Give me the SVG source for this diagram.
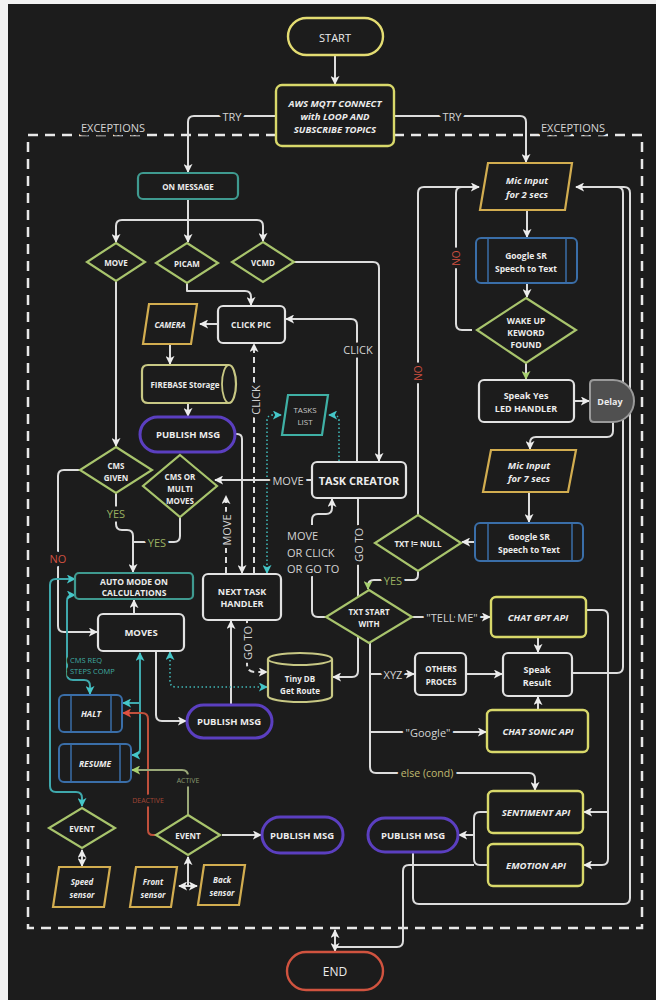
<svg xmlns="http://www.w3.org/2000/svg" width="656" height="1000" viewBox="0 0 656 1000">
<defs>
<style>
.t{font-family:"Open Sans","Liberation Sans",sans-serif;font-weight:700;font-size:8.5px;fill:#ececec;text-anchor:middle;dominant-baseline:central}
.i{font-style:italic}
.l{font-family:"Open Sans","Liberation Sans",sans-serif;font-weight:400;font-size:11px;fill:#d4d4d4;text-anchor:middle;dominant-baseline:central;paint-order:stroke;stroke:#1c1c1c;stroke-width:7px;stroke-linejoin:round}
.c{fill:none;stroke:#dcdcdc;stroke-width:2;stroke-linejoin:round}
.d{stroke-dasharray:6 4}
.tl{fill:none;stroke:#3fb5b5;stroke-width:1.6;stroke-dasharray:1.5 2.5}
.ts{fill:none;stroke:#3fa8ac;stroke-width:2}
.rd{fill:none;stroke:#c0503c;stroke-width:2}
.gr{fill:none;stroke:#9aa878;stroke-width:2}
.w{fill:#1c1c1c;stroke:#e2e2e2;stroke-width:2.2}
.y{fill:#1c1c1c;stroke:#d8d86a;stroke-width:2.4}
.cy{fill:#1c1c1c;stroke:#c8c884;stroke-width:2.2}
.g{fill:#1c1c1c;stroke:#a8c46c;stroke-width:2.2}
.gd{fill:#1c1c1c;stroke:#d2ad50;stroke-width:2.2}
.tq{fill:#1c1c1c;stroke:#3f9a90;stroke-width:2.2}
.b{fill:#1c1c1c;stroke:#3a6ea8;stroke-width:2}
.bl{fill:none;stroke:#3a6ea8;stroke-width:1.5}
.p{fill:#1c1c1c;stroke:#5b3fc0;stroke-width:3}
</style>
<marker id="aw" viewBox="0 0 10 10" refX="9" refY="5" markerWidth="9" markerHeight="9" markerUnits="userSpaceOnUse" orient="auto-start-reverse"><path d="M0,0 L10,5 L0,10 L2.5,5 Z" fill="#ececec"/></marker>
<marker id="at" viewBox="0 0 10 10" refX="9" refY="5" markerWidth="9" markerHeight="9" markerUnits="userSpaceOnUse" orient="auto-start-reverse"><path d="M0,0 L10,5 L0,10 L2.5,5 Z" fill="#45c6c8"/></marker>
<marker id="ar" viewBox="0 0 10 10" refX="9" refY="5" markerWidth="9" markerHeight="9" markerUnits="userSpaceOnUse" orient="auto-start-reverse"><path d="M0,0 L10,5 L0,10 L2.5,5 Z" fill="#e05040"/></marker>
<marker id="ag" viewBox="0 0 10 10" refX="9" refY="5" markerWidth="9" markerHeight="9" markerUnits="userSpaceOnUse" orient="auto-start-reverse"><path d="M0,0 L10,5 L0,10 L2.5,5 Z" fill="#a8d070"/></marker>
</defs>
<rect x="0" y="0" width="656" height="1000" fill="#f2f2f2"/>
<rect x="8" y="4" width="648" height="996" fill="#1c1c1c"/>

<g id="exceptions">
<path d="M276,135 H28 V928 H642 V135 H394" fill="none" stroke="#e8e8e8" stroke-width="2.5" stroke-dasharray="10 7"/>
<text class="l" x="113" y="127">EXCEPTIONS</text>
<text class="l" x="573" y="127">EXCEPTIONS</text>
</g>

<g id="connectors">
<path class="c" d="M335,55 V84" marker-end="url(#aw)"/>
<path class="c" d="M276,116 H194 Q188,116 188,122 V172" marker-end="url(#aw)"/>
<path class="c" d="M394,116 H520 Q526,116 526,122 V162" marker-end="url(#aw)"/>
<path class="c" d="M188,199 V242" marker-end="url(#aw)"/>
<path class="c" d="M188,220 H122 Q116,220 116,226 V242" marker-end="url(#aw)"/>
<path class="c" d="M188,220 H257 Q263,220 263,226 V241" marker-end="url(#aw)"/>
<path class="c" d="M294,262 H373 Q379,262 379,268 V461" marker-end="url(#aw)"/>
<path class="c" d="M187,283 V291 H245 Q251,291 251,297 V305" marker-end="url(#aw)"/>
<path class="c" d="M218,324 H200" marker-end="url(#aw)"/>
<path class="c" d="M170,344 V364" marker-end="url(#aw)"/>
<path class="c" d="M188,403 V416" marker-end="url(#aw)"/>
<path class="c" d="M235,434 H237 Q242,434 242,439 V573" marker-end="url(#aw)"/>
<path class="c d" d="M254,573 V344" marker-end="url(#aw)"/>
<path class="tl" d="M267,573 V421 Q267,415 273,415 H281" marker-start="url(#at)" marker-end="url(#at)"/>
<path class="tl" d="M339,461 V421 Q339,415 333,415 H329" marker-end="url(#at)"/>
<path class="c" d="M357,462 V325 Q357,319 351,319 H286" marker-end="url(#aw)"/>
<path class="c" d="M312,480 H215" marker-end="url(#aw)"/>
<path class="c" d="M116,281 V446" marker-end="url(#aw)"/>
<path class="c d" d="M226,573 V496" marker-end="url(#aw)"/>
<path class="c" d="M116,493 V524 Q116,530 122,530 H127 Q133,530 133,536 V572" marker-end="url(#aw)"/>
<path class="c" d="M180,517 V536 Q180,542 174,542 H133"/>
<path class="c" d="M80,470 H64 Q58,470 58,476 V626 Q58,632 64,632 H97" marker-end="url(#aw)"/>
<path class="c" d="M134,614 V600" marker-end="url(#aw)"/>
<path class="c d" d="M247,620 V664 Q247,672 255,672 H267" marker-end="url(#aw)"/>
<path class="c" d="M231,705 V621" marker-end="url(#aw)"/>
<path class="c" d="M156,651 V715 Q156,721 162,721 H186" marker-end="url(#aw)"/>
<path class="tl" d="M170,652 V681 Q170,687 176,687 H267" marker-start="url(#at)" marker-end="url(#at)"/>
<path class="c" d="M358,498 V671 Q358,677 352,677 H333" marker-end="url(#aw)"/>
<path class="c" d="M327,617 H318 Q312,617 312,611 V576"/>
<path class="c" d="M312,525 V520 Q312,514 318,514 H326 Q332,514 332,508 V499" marker-end="url(#aw)"/>
<path class="c" d="M475,542 H462" marker-end="url(#aw)"/>
<path class="c" d="M418,571 V575 Q418,580 413,580 H374 Q368,580 368,586 V589" marker-end="url(#ag)"/>
<path class="c" d="M418,515 V193 Q418,187 424,187 H479" marker-end="url(#aw)"/>
<path class="c" d="M472,330 H462 Q456,330 456,324 V193 Q456,187 462,187"/>
<path class="c" d="M527,210 V237" marker-end="url(#aw)"/>
<path class="c" d="M527,283 V297" marker-end="url(#aw)"/>
<path class="c" d="M526,363 V379" marker-end="url(#ag)"/>
<path class="c" d="M574,401 H589" marker-end="url(#aw)"/>
<path class="c" d="M613,422 V431 Q613,437 607,437 H536 Q530,437 530,443 V449" marker-end="url(#aw)"/>
<path class="c" d="M529,492 V522" marker-end="url(#aw)"/>
<path class="c" d="M412,617 H490" marker-end="url(#aw)"/>
<path class="c" d="M538,637 V652" marker-end="url(#aw)"/>
<path class="c" d="M466,674 H502" marker-end="url(#aw)"/>
<path class="c" d="M370,643 V767 Q370,773 376,773 H529 Q535,773 535,779 V790" marker-end="url(#aw)"/>
<path class="c" d="M370,674 H414" marker-end="url(#aw)"/>
<path class="c" d="M370,732 H486" marker-end="url(#aw)"/>
<path class="c" d="M538,710 V697" marker-end="url(#aw)"/>
<path class="c" d="M572,673 H617 Q623,673 623,667 V193 Q623,187 617,187 H576" marker-end="url(#aw)"/>
<path class="c" d="M586,610 H602 Q608,610 608,616 V859 Q608,865 602,865 H584" marker-end="url(#aw)"/>
<path class="c" d="M608,812 H584" marker-end="url(#aw)"/>
<path class="c" d="M488,812 H480 Q474,812 474,818 V859 Q474,865 480,865 H488"/>
<path class="c" d="M474,835 H459" marker-end="url(#aw)"/>
<path class="c" d="M413,852 V898 Q413,904 419,904 H624 Q630,904 630,898 V193 Q630,187 624,187 H617"/>
<path class="c" d="M474,865 H409 Q403,865 403,871 V941 Q403,947 397,947 H335"/>
<path class="c" d="M335,930 V951" marker-start="url(#aw)" marker-end="url(#aw)"/>
<path class="ts" d="M75,579 H56 Q50,579 50,585 V786 Q50,792 56,792 H76 Q82,792 82,798 V806" marker-start="url(#at)" marker-end="url(#at)"/>
<path class="ts" d="M75,595 H73 Q67,595 67,601 V674 Q67,680 73,680 H84 Q90,680 90,686 V694" marker-start="url(#at)" marker-end="url(#at)"/>
<path class="ts" d="M140,653 V749 Q140,755 134,755 H132" marker-start="url(#at)" marker-end="url(#at)"/>
<path class="ts" d="M140,703 H123" marker-end="url(#at)"/>
<path class="rd" d="M157,835 H153 Q148,835 148,830 V719 Q148,713 142,713 H123" marker-end="url(#ar)"/>
<path class="gr" d="M188,815 V776 Q188,770 182,770 H132" marker-end="url(#ag)"/>
<path class="c" d="M222,835 H261" marker-end="url(#aw)"/>
<path class="c" d="M82,850 V866" marker-start="url(#aw)" marker-end="url(#aw)"/>
<path class="c" d="M188,857 V886" marker-start="url(#aw)"/>
<path class="c" d="M179,886 H197" marker-start="url(#aw)" marker-end="url(#aw)"/>
<text class="l" x="232" y="116">TRY</text>
<text class="l" x="452" y="116">TRY</text>
<text class="l" x="358" y="349">CLICK</text>
<text class="l" x="288" y="480">MOVE</text>
<text class="l" transform="translate(255,400) rotate(-90)">CLICK</text>
<text class="l" transform="translate(226,530) rotate(-90)">MOVE</text>
<text class="l" transform="translate(247,643) rotate(-90)">GO TO</text>
<text class="l" transform="translate(358,545) rotate(-90)">GO TO</text>
<text class="l" transform="translate(418,373) rotate(-90)" style="fill:#d05040;font-size:10px">NO</text>
<text class="l" transform="translate(456,258) rotate(-90)" style="fill:#d05040;font-size:10px">NO</text>
<text class="l" x="116" y="513" style="fill:#9ab060">YES</text>
<text class="l" x="157" y="542" style="fill:#9ab060">YES</text>
<text class="l" x="58" y="558" style="fill:#d05040">NO</text>
<text class="l" x="393" y="580" style="fill:#9ab060">YES</text>
<text class="l" x="287" y="535" style="text-anchor:start">MOVE</text>
<text class="l" x="287" y="552" style="text-anchor:start">OR CLICK</text>
<text class="l" x="287" y="568" style="text-anchor:start">OR GO TO</text>
<text class="l" x="452" y="617">"TELL ME"</text>
<text class="l" x="393" y="674">XYZ</text>
<text class="l" x="428" y="732">"Google"</text>
<text class="l" x="427" y="773" style="fill:#c0bb70;font-size:10.5px">else (cond)</text>
<text class="l" x="70" y="660" style="fill:#3fa8a0;font-size:7.5px;text-anchor:start">CMS REQ</text>
<text class="l" x="70" y="671" style="fill:#3fa8a0;font-size:7.5px;text-anchor:start">STEPS COMP</text>
<text class="l" x="148" y="800" style="fill:#a04535;font-size:7px">DEACTIVE</text>
<text class="l" x="188" y="780" style="fill:#8a9a70;font-size:7px">ACTIVE</text>
</g>

<g id="start"><rect class="y" x="288" y="18" width="95" height="37" rx="18.5" style="stroke:#e3dc72"/><text class="t" x="335" y="37" style="font-weight:400;font-size:11px">START</text></g>
<g id="aws"><rect class="y" x="276" y="85" width="118" height="61" rx="6"/><text class="t i" x="335" y="103" style="font-size:9.5px">AWS MQTT CONNECT</text><text class="t i" x="335" y="116" style="font-size:9.5px">with LOOP AND</text><text class="t i" x="335" y="129" style="font-size:9.5px">SUBSCRIBE TOPICS</text></g>
<g id="onmessage"><rect class="tq" x="138" y="173" width="100" height="26" rx="5"/><text class="t" x="188" y="186" style="font-size:8px">ON MESSAGE</text></g>
<g id="move"><polygon class="g" points="116,243 145,262 116,281 87,262"/><text class="t" x="116" y="262" style="font-size:8px">MOVE</text></g>
<g id="picam"><polygon class="g" points="187,243 218,263 187,283 156,263"/><text class="t" x="187" y="263" style="font-size:8px">PICAM</text></g>
<g id="vcmd"><polygon class="g" points="263,242 294,262 263,282 232,262"/><text class="t" x="263" y="262" style="font-size:8px">VCMD</text></g>
<g id="clickpic"><rect class="w" x="218" y="306" width="67" height="37" rx="5"/><text class="t" x="251" y="324">CLICK PIC</text></g>
<g id="camera"><polygon class="gd" points="149,304 197,304 191,344 143,344"/><text class="t i" x="170" y="324" style="font-size:8px">CAMERA</text></g>
<g id="firebase"><path class="cy" d="M148,365 H229 A7,19 0 0 1 229,403 H148 Q142,403 142,397 V371 Q142,365 148,365 Z"/><path d="M229,365 A7,19 0 0 0 229,403" fill="none" stroke="#c8c884" stroke-width="1.8"/><text class="t" x="185" y="384" style="font-size:8px">FIREBASE Storage</text></g>
<g id="publish1"><rect class="p" x="140" y="417" width="95" height="35" rx="17.5"/><text class="t" x="188" y="434" style="font-size:9.5px">PUBLISH MSG</text></g>
<g id="taskslist"><polygon class="tq" points="288,395 328,395 322,435 282,435" style="stroke:#3fb0a5"/><text class="t" x="305" y="409" style="font-weight:400;font-size:8px;fill:#c8c8c8">TASKS</text><text class="t" x="305" y="421" style="font-weight:400;font-size:8px;fill:#c8c8c8">LIST</text></g>
<g id="taskcreator"><rect class="w" x="312" y="462" width="94" height="36" rx="5"/><text class="t" x="359" y="480" style="font-size:11px">TASK CREATOR</text></g>
<g id="cmsgiven"><polygon class="g" points="116,447 152,470 116,493 80,470"/><text class="t" x="116" y="465" style="font-size:8px">CMS</text><text class="t" x="116" y="477" style="font-size:8px">GIVEN</text></g>
<g id="cmsmulti"><polygon class="g" points="180,455 217,486 180,517 143,486"/><text class="t" x="180" y="476" style="font-size:8px">CMS OR</text><text class="t" x="180" y="488" style="font-size:8px">MULTI</text><text class="t" x="180" y="500" style="font-size:8px">MOVES</text></g>
<g id="automode"><rect class="tq" x="75" y="573" width="118" height="26" rx="4"/><text class="t" x="134" y="581">AUTO MODE ON</text><text class="t" x="134" y="592">CALCULATIONS</text></g>
<g id="moves"><rect class="w" x="98" y="614" width="86" height="37" rx="5"/><text class="t" x="141" y="632" style="font-size:9.5px">MOVES</text></g>
<g id="nexttask"><rect class="w" x="203" y="574" width="78" height="46" rx="5"/><text class="t" x="242" y="591" style="font-size:9px">NEXT TASK</text><text class="t" x="242" y="603" style="font-size:9px">HANDLER</text></g>
<g id="publish2"><rect class="p" x="187" y="705" width="85" height="33" rx="16.5"/><text class="t" x="229" y="721" style="font-size:9.5px">PUBLISH MSG</text></g>
<g id="tinydb"><path class="cy" d="M268,659 A32,6 0 0 1 332,659 V696 A32,6 0 0 1 268,696 Z"/><path d="M268,659 A32,6 0 0 0 332,659" fill="none" stroke="#c8c884" stroke-width="1.8"/><text class="t" x="300" y="678" style="font-size:8px">Tiny DB</text><text class="t" x="300" y="690" style="font-size:8px">Get Route</text></g>
<g id="mic2"><polygon class="gd" points="488,163 572,163 565,210 480,210"/><text class="t i" x="527" y="180" style="font-size:9.5px">Mic Input</text><text class="t i" x="527" y="194" style="font-size:9.5px">for 2 secs</text></g>
<g id="googlesr1"><rect class="b" x="476" y="238" width="101" height="45" rx="5"/><path class="bl" d="M488,238 V283 M566,238 V283"/><text class="t" x="526" y="255">Google SR</text><text class="t" x="526" y="268">Speech to Text</text></g>
<g id="wakeup"><polygon class="g" points="526,298 576,330 526,363 477,330"/><text class="t" x="526" y="320">WAKE UP</text><text class="t" x="526" y="332">KEWORD</text><text class="t" x="526" y="344">FOUND</text></g>
<g id="speakyes"><rect class="w" x="479" y="380" width="95" height="42" rx="5"/><text class="t" x="526" y="395" style="font-size:9px">Speak Yes</text><text class="t" x="526" y="408" style="font-size:9px">LED HANDLER</text></g>
<g id="delay"><path d="M594,380 H613 A21,21 0 0 1 613,422 H594 Q590,422 590,418 V384 Q590,380 594,380 Z" fill="#505050" stroke="#9a9a9a" stroke-width="2"/><text class="t" x="610" y="401" style="font-size:9px">Delay</text></g>
<g id="mic7"><polygon class="gd" points="491,450 576,450 568,492 483,492"/><text class="t i" x="529" y="465" style="font-size:9.5px">Mic Input</text><text class="t i" x="529" y="478" style="font-size:9.5px">for 7 secs</text></g>
<g id="googlesr2"><rect class="b" x="475" y="523" width="108" height="38" rx="5"/><path class="bl" d="M488,523 V561 M572,523 V561"/><text class="t" x="529" y="536">Google SR</text><text class="t" x="529" y="549">Speech to Text</text></g>
<g id="txtnull"><polygon class="g" points="418,515 461,543 418,571 375,543"/><text class="t" x="418" y="543" style="font-size:8px">TXT != NULL</text></g>
<g id="txtstart"><polygon class="g" points="369,590 412,617 369,643 326,617"/><text class="t" x="369" y="611" style="font-size:8px">TXT START</text><text class="t" x="369" y="623" style="font-size:8px">WITH</text></g>
<g id="chatgpt"><rect class="y" x="491" y="597" width="95" height="40" rx="5"/><text class="t i" x="538" y="617" style="font-size:9.5px">CHAT GPT API</text></g>
<g id="others"><rect class="w" x="415" y="653" width="51" height="42" rx="5"/><text class="t" x="441" y="668" style="font-size:8px">OTHERS</text><text class="t" x="441" y="681" style="font-size:8px">PROCES</text></g>
<g id="speakresult"><rect class="w" x="503" y="653" width="69" height="43" rx="5"/><text class="t" x="537" y="669" style="font-size:9px">Speak</text><text class="t" x="537" y="682" style="font-size:9px">Result</text></g>
<g id="chatsonic"><rect class="y" x="487" y="710" width="101" height="42" rx="5"/><text class="t i" x="538" y="731" style="font-size:9.5px">CHAT SONIC API</text></g>
<g id="sentiment"><rect class="y" x="488" y="791" width="95" height="42" rx="5"/><text class="t i" x="536" y="812" style="font-size:9.5px">SENTIMENT API</text></g>
<g id="emotion"><rect class="y" x="488" y="844" width="95" height="42" rx="5"/><text class="t i" x="536" y="865" style="font-size:9.5px">EMOTION API</text></g>
<g id="publish3"><rect class="p" x="368" y="818" width="90" height="34" rx="17"/><text class="t" x="413" y="835" style="font-size:9.5px">PUBLISH MSG</text></g>
<g id="halt"><rect class="b" x="59" y="695" width="63" height="37" rx="5"/><path class="bl" d="M71,695 V732 M111,695 V732"/><text class="t i" x="91" y="713">HALT</text></g>
<g id="resume"><rect class="b" x="59" y="744" width="72" height="38" rx="5"/><path class="bl" d="M71,744 V782 M120,744 V782"/><text class="t i" x="95" y="763">RESUME</text></g>
<g id="event1"><polygon class="g" points="82,808 115,828 82,848 49,828"/><text class="t" x="82" y="828" style="font-size:8px">EVENT</text></g>
<g id="event2"><polygon class="g" points="188,815 220,835 188,855 156,835"/><text class="t" x="188" y="835" style="font-size:8px">EVENT</text></g>
<g id="publish4"><rect class="p" x="262" y="817" width="81" height="36" rx="18"/><text class="t" x="302" y="835" style="font-size:9.5px">PUBLISH MSG</text></g>
<g id="speed"><polygon class="gd" points="59,867 110,867 104,907 53,907"/><text class="t i" x="82" y="881" style="font-size:8px">Speed</text><text class="t i" x="82" y="894" style="font-size:8px">sensor</text></g>
<g id="front"><polygon class="gd" points="136,867 177,867 171,907 130,907"/><text class="t i" x="153" y="881" style="font-size:8px">Front</text><text class="t i" x="153" y="894" style="font-size:8px">sensor</text></g>
<g id="back"><polygon class="gd" points="204,865 245,865 239,905 198,905"/><text class="t i" x="222" y="879" style="font-size:8px">Back</text><text class="t i" x="222" y="892" style="font-size:8px">sensor</text></g>
<g id="end"><rect class="y" x="287" y="952" width="96" height="38" rx="19" style="stroke:#d0533f"/><text class="t" x="335" y="971" style="font-weight:400;font-size:12px">END</text></g>
</svg>
